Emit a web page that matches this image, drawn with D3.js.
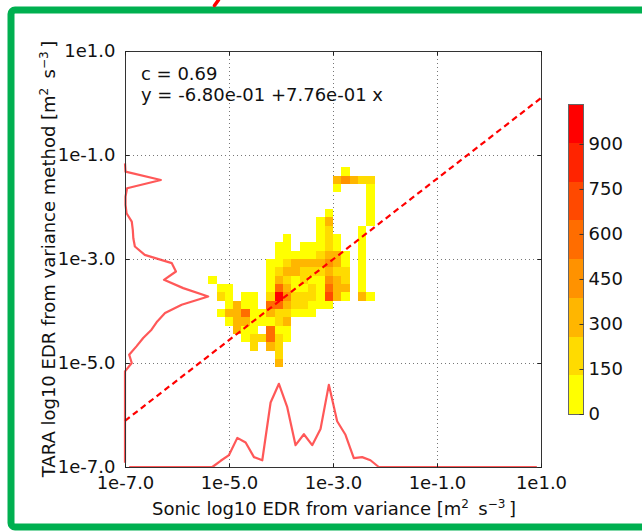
<!DOCTYPE html>
<html>
<head>
<meta charset="utf-8">
<script src="https://cdn.jsdelivr.net/npm/d3@7"></script>
<style>
  body { margin: 0; background: #fff; }
  svg { display: block; font-family: "DejaVu Sans", sans-serif; }
</style>
</head>
<body>
<svg id="chart" width="642" height="531"></svg>
<script>
// ---- data -------------------------------------------------------------
// both axes are log10 EDR, 50 bins between 1e-7 and 1e1
const logMin = -7, logMax = 1, nBins = 50;
const axisTicks = [-7, -5, -3, -1, 1];
const tickLabels = ["1e-7.0", "1e-5.0", "1e-3.0", "1e-1.0", "1e1.0"];

// colour bar
const cbarMax = 1033;
const cbarTicks = [0, 150, 300, 450, 600, 750, 900];
const bandColors = ["#ffff00", "#ffdb00", "#ffb600", "#ff9200",
                    "#ff6d00", "#ff4900", "#ff2400", "#ff0000"];

// fit statistics
const corrCoef = 0.69;
const fitIntercept = -0.680;
const fitSlope = 0.776;

// 2-D histogram counts: first column is x-bin 10, first listed row is y-bin 35
const countsFirstXBin = 10;
const countsTopYBin = 35;
const counts = [
  // x-bin: 10  11  12  13  14  15  16  17   18   19   20   21   22   23   24   25   26   27   28   29
  [  0,  0,  0,  0,  0,  0,  0,  0,   0,   0,   0,   0,   0,   0,   0,   0,  60,   0,   0,   0], // 35
  [  0,  0,  0,  0,  0,  0,  0,  0,   0,   0,   0,   0,   0,   0,   0, 330, 470, 300, 180, 150], // 34
  [  0,  0,  0,  0,  0,  0,  0,  0,   0,   0,   0,   0,   0,   0,   0,  70,   0,   0,   0,  60], // 33
  [  0,  0,  0,  0,  0,  0,  0,  0,   0,   0,   0,   0,   0,   0,   0,   0,   0,   0,   0,  55], // 32
  [  0,  0,  0,  0,  0,  0,  0,  0,   0,   0,   0,   0,   0,   0,   0,   0,   0,   0,   0,  45], // 31
  [  0,  0,  0,  0,  0,  0,  0,  0,   0,   0,   0,   0,   0,   0,  80,   0,   0,   0,   0,  50], // 30
  [  0,  0,  0,  0,  0,  0,  0,  0,   0,   0,   0,   0,   0,  90, 300,   0,   0,   0,   0,  40], // 29
  [  0,  0,  0,  0,  0,  0,  0,  0,   0,   0,   0,   0,   0, 100, 200,   0,   0,   0,  70,   0], // 28
  [  0,  0,  0,  0,  0,  0,  0,  0,   0,  60,   0,   0,   0, 110, 220,  80,   0,   0,  55,   0], // 27
  [  0,  0,  0,  0,  0,  0,  0,  0,  70, 100,   0,  80,  95, 120, 190,  85,   0,   0,  60,   0], // 26
  [  0,  0,  0,  0,  0,  0,  0,  0,  85, 115,  70, 105, 110, 180, 350, 260,  70,   0,  60,   0], // 25
  [  0,  0,  0,  0,  0,  0,  0, 90, 110, 210, 330, 320, 300, 340, 480, 310, 120,   0,  65,   0], // 24
  [  0,  0,  0,  0,  0,  0,  0, 95, 150, 340, 310, 220, 180, 200, 360, 220, 170,   0,  60,   0], // 23
  [ 50,  0,  0,  0,  0,  0,  0,100, 330, 230, 110, 200, 120, 100, 500, 330, 200,   0,  70,   0], // 22
  [  0, 60, 70,  0,  0,  0,  0,110, 620, 340, 100, 120, 210, 110, 600, 340, 320,   0,  65,   0], // 21
  [  0,190, 80,  0, 60, 70,  0,200,1033, 480, 230, 210, 220, 120, 720, 350, 110,   0, 320,  60], // 20
  [  0,  0, 90,330,100, 80,  0,640, 600, 330, 210, 190, 110,  90,  80,   0,   0,   0,   0,   0], // 19
  [  0, 70,320,340,620,100, 90,340, 200, 220, 110, 100,  85,   0,   0,   0,   0,   0,   0,   0], // 18
  [  0,  0, 90,330,350,110, 95,100, 210, 320,   0,   0,   0,   0,   0,   0,   0,   0,   0,   0], // 17
  [  0,  0,  0,340,110, 90,  0,610, 100,  95,   0,   0,   0,   0,   0,   0,   0,   0,   0,   0], // 16
  [  0,  0,  0,  0, 80,210,200,630, 220,  85,   0,   0,   0,   0,   0,   0,   0,   0,   0,   0], // 15
  [  0,  0,  0,  0,  0,190,  0,330, 200,   0,   0,   0,   0,   0,   0,   0,   0,   0,   0,   0], // 14
  [  0,  0,  0,  0,  0,  0,  0,  0, 210,   0,   0,   0,   0,   0,   0,   0,   0,   0,   0,   0], // 13
  [  0,  0,  0,  0,  0,  0,  0,  0, 320,   0,   0,   0,   0,   0,   0,   0,   0,   0,   0,   0]  // 12
];

// marginal distributions, drawn as log10 offsets from the lower/left edge
// x marginal for x-bins 10..30 (all other bins are zero)
const xMarginalFirstBin = 10;
const xMarginal = [0.00, 0.12, 0.23, 0.56, 0.47, 0.19, 0.13, 1.24, 1.60, 1.15, 0.42,
                   0.63, 0.42, 0.73, 1.58, 0.88, 0.62, 0.17, 0.19, 0.13, 0.00];
// y marginal for y-bins 11..36; the curve is only drawn up to y-bin 36
const yMarginalFirstBin = 11;
const yMarginalLastBin = 36;
const yMarginal = [0.00, 0.13, 0.08, 0.22, 0.35, 0.51, 0.62, 0.77, 1.09, 1.60, 1.12,
                   0.75, 0.98, 0.90, 0.38, 0.19, 0.16, 0.15, 0.13, 0.03, 0.01, 0.01,
                   0.04, 0.69, 0.01, 0.00];

// ---- layout -----------------------------------------------------------
const svg = d3.select("#chart");
const plot = { left: 125, top: 51, right: 541, bottom: 467 };
const x = d3.scaleLinear().domain([logMin, logMax]).range([plot.left, plot.right]);
const y = d3.scaleLinear().domain([logMin, logMax]).range([plot.bottom, plot.top]);
const binW = (logMax - logMin) / nBins;
const color = d3.scaleQuantize().domain([0, cbarMax]).range(bandColors);

// outer green frame
svg.append("rect")
  .attr("x", 11).attr("y", 10).attr("width", 700).attr("height", 517)
  .attr("rx", 4)
  .attr("fill", "none").attr("stroke", "#00b050").attr("stroke-width", 7);
// red stroke poking in from above the frame
svg.append("path").attr("d", "M218.5,0 L214.5,5.5")
  .attr("stroke", "#ff0000").attr("stroke-width", 3.5).attr("stroke-linecap", "round");

const g = svg.append("g");

// grid (dotted) at interior ticks
const innerTicks = axisTicks.slice(1, -1);
g.selectAll(".gx").data(innerTicks).join("line")
  .attr("x1", d => Math.round(x(d)) + 0.5).attr("x2", d => Math.round(x(d)) + 0.5)
  .attr("y1", plot.top).attr("y2", plot.bottom)
  .attr("stroke", "#777").attr("stroke-width", 1).attr("stroke-dasharray", "1,3");
g.selectAll(".gy").data(innerTicks).join("line")
  .attr("y1", d => Math.round(y(d)) + 0.5).attr("y2", d => Math.round(y(d)) + 0.5)
  .attr("x1", plot.left).attr("x2", plot.right)
  .attr("stroke", "#777").attr("stroke-width", 1).attr("stroke-dasharray", "1,3");

// histogram cells
const cells = [];
counts.forEach((row, ri) => row.forEach((c, ci) => {
  if (c > 0) cells.push({ xb: countsFirstXBin + ci, yb: countsTopYBin - ri, c });
}));
g.selectAll(".cell").data(cells).join("rect")
  .attr("x", d => x(logMin + d.xb * binW))
  .attr("y", d => y(logMin + (d.yb + 1) * binW))
  .attr("width", d => x(logMin + (d.xb + 1) * binW) - x(logMin + d.xb * binW))
  .attr("height", d => y(logMin + d.yb * binW) - y(logMin + (d.yb + 1) * binW))
  .attr("fill", d => color(d.c))
  .attr("shape-rendering", "crispEdges");

// marginal curves
const margStroke = "#ff3b3b";
const xMargPts = d3.range(nBins).map(b => {
  const k = b - xMarginalFirstBin;
  const v = (k >= 0 && k < xMarginal.length) ? xMarginal[k] : 0;
  return [logMin + (b + 0.5) * binW, v];
});
g.append("path")
  .attr("d", d3.line().x(d => x(d[0])).y(d => y(logMin + d[1]))(xMargPts))
  .attr("fill", "none").attr("stroke", margStroke).attr("stroke-opacity", 0.85)
  .attr("stroke-width", 2.2).attr("stroke-linejoin", "round");
const yMargPts = d3.range(yMarginalLastBin + 1).map(b => {
  const k = b - yMarginalFirstBin;
  const v = (k >= 0 && k < yMarginal.length) ? yMarginal[k] : 0;
  return [logMin + (b + 0.5) * binW, v];
});
g.append("path")
  .attr("d", d3.line().x(d => x(logMin + d[1])).y(d => y(d[0]))(yMargPts))
  .attr("fill", "none").attr("stroke", margStroke).attr("stroke-opacity", 0.85)
  .attr("stroke-width", 2.2).attr("stroke-linejoin", "round");

// regression line
g.append("line")
  .attr("x1", x(logMin)).attr("y1", y(fitIntercept + fitSlope * logMin))
  .attr("x2", x(logMax)).attr("y2", y(fitIntercept + fitSlope * logMax))
  .attr("stroke", "#ff0000").attr("stroke-width", 2.2).attr("stroke-dasharray", "6,4");

// axes frame
g.append("rect")
  .attr("x", plot.left + 0.5).attr("y", plot.top + 0.5)
  .attr("width", plot.right - plot.left).attr("height", plot.bottom - plot.top)
  .attr("fill", "none").attr("stroke", "#333").attr("stroke-width", 1);

// axes with inward ticks on all four sides
const fmtTick = d => tickLabels[axisTicks.indexOf(d)];
g.append("g").attr("transform", `translate(0,${plot.bottom + 0.5})`)
  .call(d3.axisBottom(x).tickValues(axisTicks).tickFormat(fmtTick).tickSizeInner(-4).tickSizeOuter(0).tickPadding(9));
const leftAxis = g.append("g").attr("transform", `translate(${plot.left + 0.5},0)`)
  .call(d3.axisLeft(y).tickValues(axisTicks).tickFormat(fmtTick).tickSizeInner(-4).tickSizeOuter(0).tickPadding(9));
g.append("g").attr("transform", `translate(0,${plot.top + 0.5})`)
  .call(d3.axisTop(x).tickValues(axisTicks).tickFormat("").tickSizeInner(-4).tickSizeOuter(0));
g.append("g").attr("transform", `translate(${plot.right + 0.5},0)`)
  .call(d3.axisRight(y).tickValues(axisTicks).tickFormat("").tickSizeInner(-4).tickSizeOuter(0));
g.selectAll(".domain").remove();
g.selectAll(".tick line").attr("stroke", "#222");
g.selectAll(".tick text").attr("font-size", 18).attr("fill", "#111")
  .attr("font-family", "DejaVu Sans, sans-serif");
leftAxis.selectAll(".tick text").attr("dx", "-1");

// annotation
const sci = v => {
  const [m, e] = v.toExponential(2).split("e");
  const ev = parseInt(e, 10);
  return m + "e" + (ev < 0 ? "-" : "+") + String(Math.abs(ev)).padStart(2, "0");
};
const ann = g.append("text").attr("x", 141).attr("y", 80).attr("font-size", 18).attr("fill", "#111");
ann.append("tspan").attr("x", 141).text(`c = ${corrCoef.toFixed(2)}`);
ann.append("tspan").attr("x", 141).attr("dy", 21)
  .text(`y = ${sci(fitIntercept)} +${sci(fitSlope)} x`);

// axis titles with unit superscripts
function unitLabel(sel, main) {
  sel.append("tspan").text(main + " [m");
  sel.append("tspan").attr("font-size", 12).attr("dy", -7).text("2");
  sel.append("tspan").attr("dy", 7).text("\u2009 s");
  sel.append("tspan").attr("font-size", 12).attr("dy", -7).text("\u22123");
  sel.append("tspan").attr("dy", 7).text("\u2009]");
}
const xt = svg.append("text").attr("x", 334).attr("y", 515).attr("text-anchor", "middle")
  .attr("font-size", 18).attr("fill", "#111");
unitLabel(xt, "Sonic log10 EDR from variance");
const yt = svg.append("text").attr("transform", "translate(55,259) rotate(-90)")
  .attr("text-anchor", "middle").attr("font-size", 18).attr("fill", "#111");
unitLabel(yt, "TARA log10 EDR from variance method");

// colour bar
const cb = { x: 568, w: 15, top: 104, bottom: 414 };
const cy = d3.scaleLinear().domain([0, cbarMax]).range([cb.bottom, cb.top]);
const bandEdges = d3.range(bandColors.length + 1).map(k => k * cbarMax / bandColors.length);
svg.selectAll(".band").data(bandColors).join("rect")
  .attr("x", cb.x).attr("width", cb.w)
  .attr("y", (d, k) => cy(bandEdges[k + 1]))
  .attr("height", (d, k) => cy(bandEdges[k]) - cy(bandEdges[k + 1]))
  .attr("fill", d => d).attr("shape-rendering", "crispEdges");
svg.append("rect").attr("x", cb.x + 0.5).attr("y", cb.top + 0.5)
  .attr("width", cb.w).attr("height", cb.bottom - cb.top)
  .attr("fill", "none").attr("stroke", "#666").attr("stroke-width", 1);
const cbAxis = svg.append("g").attr("transform", `translate(${cb.x + cb.w + 0.5},0)`)
  .call(d3.axisRight(cy).tickValues(cbarTicks).tickSizeInner(-4).tickSizeOuter(0).tickPadding(5));
cbAxis.select(".domain").remove();
cbAxis.selectAll(".tick line").attr("stroke", "#333");
cbAxis.selectAll(".tick text").attr("font-size", 18).attr("fill", "#111")
  .attr("font-family", "DejaVu Sans, sans-serif");
</script>
</body>
</html>
